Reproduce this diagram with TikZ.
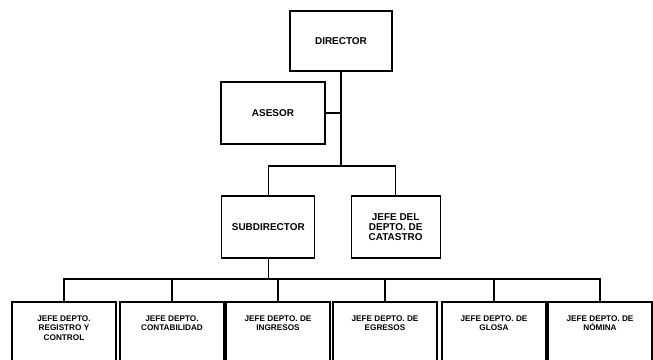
\documentclass[tikz,border=0pt]{standalone}
\usepackage{fontspec}
\setmainfont{Liberation Sans}
\usepackage{tikz}
\usetikzlibrary{positioning}
\tikzstyle{box} = [rectangle, draw=black, line width=1.1pt, fill=white, align=center, font=\bfseries\fontsize{7}{8}\selectfont, inner sep=1pt]
\tikzstyle{topbox} = [box, minimum height=1.86cm, font=\bfseries\fontsize{8.5}{8.8}\selectfont]
\tikzstyle{depto} = [box, minimum width=3.12cm, minimum height=1.98cm]
\tikzstyle{line} = [line width=1.1pt]

\begin{document}
\begin{tikzpicture}
\useasboundingbox (0,0) rectangle (19.59,-10.8);
% Define nodes
\node (director) [topbox, minimum width=3.06cm, minimum height=1.8cm] at (10.23,-1.23) {DIRECTOR};
\node (asesor) [topbox, minimum width=3.12cm] at (8.19,-3.39) {ASESOR};
\node (subdirector) [topbox, minimum width=2.79cm] at (8.05,-6.81) {SUBDIRECTOR};
\node (catastro) [topbox, minimum width=2.67cm] at (11.87,-6.81) {JEFE DEL\\DEPTO. DE\\CATASTRO};
\node (registro) [depto] at (1.92,-10.05) {JEFE DEPTO.\\REGISTRO Y\\CONTROL\\[4pt]};
\node (contabilidad) [depto] at (5.16,-10.05) {JEFE DEPTO.\\CONTABILIDAD\\[12pt]};
\node (ingresos) [depto] at (8.34,-10.05) {JEFE DEPTO. DE\\INGRESOS\\[12pt]};
\node (egresos) [depto] at (11.55,-10.05) {JEFE DEPTO. DE\\EGRESOS\\[12pt]};
\node (glosa) [depto] at (14.82,-10.05) {JEFE DEPTO. DE\\GLOSA\\[12pt]};
\node (nomina) [depto] at (18.0,-10.05) {JEFE DEPTO. DE\\NÓMINA\\[12pt]};
\coordinate (midbus) at (10.14,-4.98);
\coordinate (bus) at (8.16,-8.37);
% Connect nodes with lines
\draw [line] (director.south) -- (director.south |- midbus);
\draw [line] (asesor.east) -- (asesor.east -| director.south);
\draw [line] (subdirector.north) |- (director.south |- midbus) -| (catastro.north);
\draw [line] (subdirector.south) -- (subdirector.south |- bus);
\draw [line] (registro.north) |- (bus) -| (nomina.north);
\draw [line] (contabilidad.north) -- (contabilidad.north |- bus);
\draw [line] (ingresos.north) -- (ingresos.north |- bus);
\draw [line] (egresos.north) -- (egresos.north |- bus);
\draw [line] (glosa.north) -- (glosa.north |- bus);
\end{tikzpicture}
\end{document}
